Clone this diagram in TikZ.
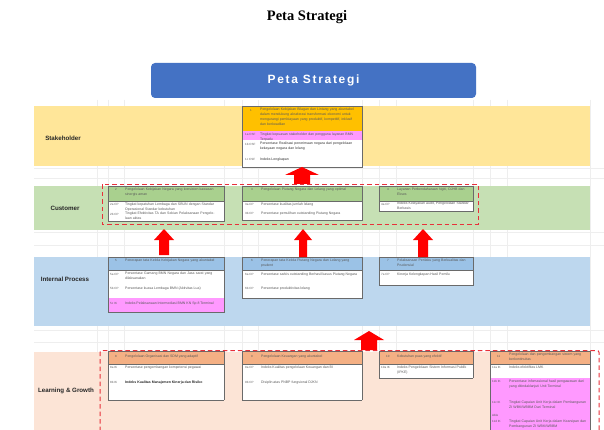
\documentclass[tikz,border=0pt]{standalone}
\usepackage{fontspec}
\setmainfont{Liberation Sans}
\newfontfamily\titlefont{Liberation Serif}
\definecolor{bYel}{HTML}{FFE699}
\definecolor{bGrn}{HTML}{C6E0B4}
\definecolor{bBlu}{HTML}{BDD7EE}
\definecolor{bPch}{HTML}{FCE4D6}
\definecolor{hOra}{HTML}{FFC000}
\definecolor{hGrn}{HTML}{A9D08E}
\definecolor{hBlu}{HTML}{9BC2E6}
\definecolor{hPch}{HTML}{F4B084}
\definecolor{mag}{HTML}{FF99FF}
\definecolor{ban}{HTML}{4472C4}
\definecolor{grid}{HTML}{EEEEEE}
\definecolor{edge}{HTML}{6A6A6A}
\definecolor{ink}{HTML}{5A5A5A}
\definecolor{dashred}{HTML}{E8303A}
\tikzset{
  x=1pt,y=-1pt,
  bandlabel/.style={font=\bfseries\fontsize{6.2}{8}\selectfont,text=black!85,anchor=center},
  tiny/.style={font=\fontsize{3.5}{5.2}\selectfont,text=ink,anchor=north west,inner sep=0,align=left},
  tinyid/.style={font=\fontsize{3}{4}\selectfont,text=ink,anchor=north west,inner sep=0},
  frame/.style={draw=edge,line width=0.9pt},
  redbox/.style={draw=dashred,line width=1pt,dash pattern=on 4.5pt off 3pt},
  uparrow/.style={fill=red},
}
% block arrow: centre x, tip y, base y, half head, half stem, head height
\newcommand{\uparr}[6]{\fill[uparrow] (#1,#2) -- (#1+#4,#2+#6) -- (#1+#5,#2+#6) -- (#1+#5,#3) -- (#1-#5,#3) -- (#1-#5,#2+#6) -- (#1-#4,#2+#6) -- cycle;}
\begin{document}
\begin{tikzpicture}
\useasboundingbox (0,0) rectangle (604,430);
\fill[white] (0,0) rectangle (604,430);
% faint sheet grid
\foreach \gx in {97,108,124,224,242,258,362,379,396,473,490,507,590}
  \draw[grid,line width=0.5pt] (\gx,100) -- (\gx,430);
\foreach \gy in {168,178,232,245,330,342}
  \draw[grid,line width=0.5pt] (34,\gy) -- (604,\gy);
% title and banner
\node[font=\titlefont\bfseries\fontsize{14.5}{16}\selectfont] (title) at (307,17) {Peta Strategi};
\node[fill=ban,rounded corners=4pt,minimum width=325pt,minimum height=35pt,inner sep=0,text=white,font=\bfseries\fontsize{12}{14}\selectfont] (banner) at (313.5,80.5) {\addfontfeature{LetterSpace=14}Peta Strategi};
% bands
\fill[bYel] (34,106) rectangle (590,166);
\fill[bGrn] (34,186) rectangle (590,230);
\fill[bBlu] (34,257) rectangle (590,326);
\fill[bPch] (34,352) rectangle (590,430);
\node[bandlabel] (lblS) at (63,138) {Stakeholder};
\node[bandlabel] (lblC) at (65,208) {Customer};
\node[bandlabel] (lblI) at (65,279) {Internal Process};
\node[bandlabel] (lblL) at (66,391) {Learning \& Growth};
% ---- stakeholder box
\fill[white] (242,106) rectangle (362,167);
\fill[hOra] (242,106) rectangle (362,131);
\fill[mag] (242,131) rectangle (362,140);
\draw[frame] (242,106) rectangle (362,167);
\node[tinyid] (s0) at (250,109) {1};
\node[tiny,text width=96pt] (s1) at (260,107.5) {Pengelolaan Kebijakan Bilagan dan Lintang yang akuntabel dalam mendukung akselerasi transformasi ekonomi untuk mengurangi pembiayaan yang produktif, kompetitif, inklusif dan berkeadilan};
\node[tinyid] (s2a) at (245,133) {1a CSF};
\node[tiny,text width=98pt] (s2) at (260,132.5) {Tingkat kepuasan stakeholder dan pengguna layanan BMN Terpadu};
\node[tinyid] (s3a) at (245,143) {1b CSF};
\node[tiny,text width=98pt,text=black!80] (s3) at (260,142) {Persentase Realisasi penerimaan negara dari pengelolaan kekayaan negara dan lelang};
\node[tinyid] (s4a) at (245,158) {1c CSF};
\node[tiny,text=black!80] (s4) at (260,158) {Indeks Lengkapan};
% ---- customer boxes
\foreach \xa/\xb/\yh/\ye in {108/224/201/221,242/362/201/220,379/473/201/211}{
  \fill[white] (\xa,186) rectangle (\xb,\ye);
  \fill[hGrn] (\xa,186) rectangle (\xb,\yh);
  \draw[frame] (\xa,186) rectangle (\xb,\ye);
  \draw[edge,line width=0.5pt] (\xa,\yh) -- (\xb,\yh);
}
\node[tinyid] (c1n) at (115,188) {2};
\node[tiny,text width=92pt] (c1) at (125,188) {Pengelolaan Kebijakan Negara yang konsisten kawasan sinergis aman};
\node[tinyid] (c1a) at (110,203) {2a CP};
\node[tiny,text width=92pt] (c1b) at (125,202.5) {Tingkat kepatuhan Lembaga dan SBUN dengan Standar Operasional Standar kebutuhan};
\node[tinyid] (c1c) at (110,213) {2b CP};
\node[tiny,text width=92pt] (c1d) at (125,212) {Tingkat Efektivitas TA dan Sekian Pelaksanaan Pengelolaan aktas};
\node[tinyid] (c2n) at (251,188) {3};
\node[tiny,text width=95pt] (c2) at (261,188) {Pengelolaan Piutang Negara dan Lelang yang optimal};
\node[tinyid] (c2a) at (245,203) {3a CP};
\node[tiny] (c2b) at (261,203) {Persentase kualitas jumlah lelang};
\node[tinyid] (c2c) at (245,212) {3b CP};
\node[tiny] (c2d) at (261,212) {Persentase pemulihan outstanding Piutang Negara};
\node[tinyid] (c3n) at (387,188) {4};
\node[tiny,text width=72pt] (c3) at (397,188) {Layanan Perbendaharaan Ngiti, OJHB dan Ekses};
\node[tinyid] (c3a) at (381,203) {4a CP};
\node[tiny,text width=72pt] (c3b) at (397,202) {Indeks Kelayakan audit, Pengelolaan Standar Berbasis};
% ---- internal boxes
\foreach \xa/\xb/\yh/\ye in {108/224/270/312,242/362/270/298,379/473/270/285}{
  \fill[white] (\xa,257) rectangle (\xb,\ye);
  \fill[hBlu] (\xa,257) rectangle (\xb,\yh);
  \draw[edge,line width=0.5pt] (\xa,\yh) -- (\xb,\yh);
}
\fill[mag] (108,298) rectangle (224,312);
\foreach \xa/\xb/\yh/\ye in {108/224/270/312,242/362/270/298,379/473/270/285}
  \draw[frame] (\xa,257) rectangle (\xb,\ye);
\node[tinyid] (i1n) at (115,259) {5};
\node[tiny,text width=92pt] (i1) at (125,259) {Penerapan tata Kelola Kebijakan Negara yang akuntabel};
\node[tinyid] (i1a) at (110,273) {5a CP};
\node[tiny,text width=92pt] (i1b) at (125,272) {Persentase Gamang BMN Negara dan Jasa sarat yang dilaksanakan};
\node[tinyid] (i1c) at (110,287) {5b CP};
\node[tiny] (i1d) at (125,287) {Persentase kuasa Lembaga BMN (Aktivitas Lua)};
\node[tinyid] (i1e) at (110,302) {5c IK};
\node[tiny] (i1f) at (125,302) {Indeks Pelaksanaan Intermediasi BMN KN Sp 8 Terminal};
\node[tinyid] (i2n) at (251,259) {6};
\node[tiny,text width=95pt] (i2) at (261,258.5) {Penerapan tata Kelola Piutang Negara dan Lelang yang prudent};
\node[tinyid] (i2a) at (245,273) {6a CP};
\node[tiny] (i2b) at (261,273) {Persentase sarkis outstanding Berhasil kasus Piutang Negara};
\node[tinyid] (i2c) at (245,287) {6b CP};
\node[tiny] (i2d) at (261,287) {Persentase produktivitas lelang};
\node[tinyid] (i3n) at (387,259) {7};
\node[tiny,text width=72pt] (i3) at (397,258.5) {Pelaksanaan Perilaku yang Berkualitas dan Prudensial};
\node[tinyid] (i3a) at (381,273) {7a CP};
\node[tiny] (i3b) at (397,273) {Kinerja Kelengkapan Hasil Pemilu};
% ---- learning boxes
\foreach \xa/\xb/\ye in {108/224/400,242/362/400,379/473/378,490/590/430}{
  \fill[white] (\xa,351) rectangle (\xb,\ye);
  \fill[hPch] (\xa,351) rectangle (\xb,364);
}
\fill[mag] (490,378) rectangle (590,430);
\foreach \xa/\xb/\ye in {108/224/400,242/362/400,379/473/378,490/590/430}{
  \draw[frame] (\xa,\ye) -- (\xa,351) -- (\xb,351) -- (\xb,\ye);
  \ifnum\ye<430 \draw[frame] (\xa,\ye) -- (\xb,\ye);\fi
  \draw[edge,line width=0.5pt] (\xa,364) -- (\xb,364);
}
\node[tinyid] (l1n) at (115,355) {8};
\node[tiny] (l1) at (125,355) {Pengelolaan Organisasi dan SDM yang adaptif};
\node[tinyid] (l1a) at (110,366) {8a IK};
\node[tiny] (l1b) at (125,366) {Persentase pengembangan kompetensi pegawai};
\node[tinyid] (l1c) at (110,381) {8b IK};
\node[tiny,text=black!85] (l1d) at (125,381) {\bfseries Indeks Kualitas Manajemen Kinerja dan Risiko};
\node[tinyid] (l2n) at (251,355) {9};
\node[tiny] (l2) at (261,355) {Pengelolaan Keuangan yang akuntabel};
\node[tinyid] (l2a) at (245,366) {9a CP};
\node[tiny] (l2b) at (261,366) {Indeks Kualitas pengelolaan Keuangan dan BI};
\node[tinyid] (l2c) at (245,381) {9b CP};
\node[tiny] (l2d) at (261,381) {Disiplin atas PNBP fungsional DJKN};
\node[tinyid] (l3n) at (386,355) {10};
\node[tiny] (l3) at (397,355) {Kebutuhan puas yang efektif};
\node[tinyid] (l3a) at (381,366) {10a IK};
\node[tiny,text width=72pt] (l3b) at (397,365.5) {Indeks Pengelolaan Sistem Informasi Publik (IPKE)};
\node[tinyid] (l4n) at (497,355) {11};
\node[tiny,text width=78pt] (l4) at (509,352.5) {Pengelolaan dan pengembangan sistem yang berkontinuitas};
\node[tinyid] (l4a) at (492,366) {11a IK};
\node[tiny] (l4b) at (509,366) {Indeks efektifitas LMK};
\node[tinyid] (l4c) at (492,380) {11b IK};
\node[tiny,text width=78pt] (l4d) at (509,379.5) {Persentase infomasional hasil pengawasan dari yang ditindaklanjuti Unit Terminal};
\node[tinyid] (l4e) at (492,401) {11c IK};
\node[tiny,text width=78pt] (l4f) at (509,400.5) {Tingkat Capaian Unit Kerja dalam Pembangunan ZI WBK/WBBM Dari Terminal};
\node[tinyid] (l4g) at (492,414) {Able};
\node[tinyid] (l4h) at (492,420) {11d IK};
\node[tiny,text width=78pt] (l4i) at (509,420) {Tingkat Capaian Unit Kerja dalam Kearsipan dan Pembangunan ZI WBK/WBBM};
% ---- dashed outlines
\draw[redbox] (102,184.5) rectangle (478,224.5);
\draw[redbox,rounded corners=2pt] (100,431) -- (100,350.5) -- (599,350.5) -- (599,431);
% ---- arrows
\uparr{302}{167}{184}{17}{8}{8}
\uparr{164}{229}{255}{10}{5}{11}
\uparr{303}{229}{257}{9}{4}{11}
\uparr{423}{229}{257}{10}{5}{11}
\uparr{369}{331}{350}{15}{8}{9}
\end{tikzpicture}
\end{document}
